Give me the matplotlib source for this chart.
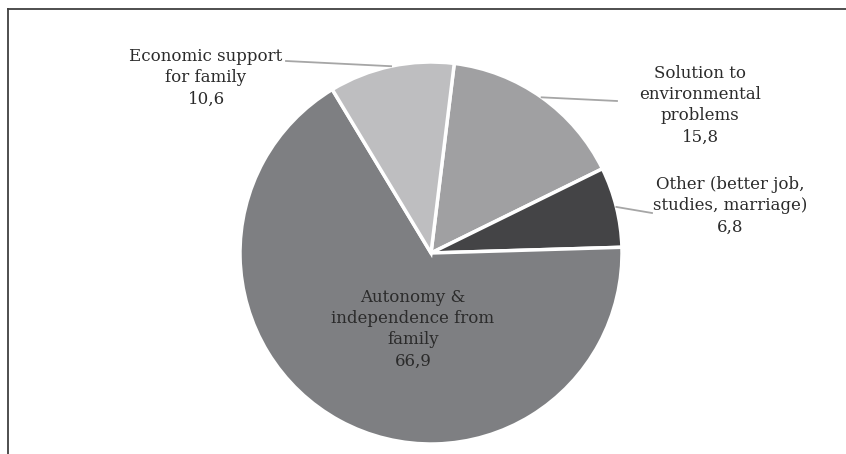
import numpy as np
import matplotlib.pyplot as plt
from matplotlib.lines import Line2D

# reasons for moving out, percent of respondents
categories = ['Solution to\nenvironmental\nproblems',
              'Other (better job,\nstudies, marriage)',
              'Autonomy &\nindependence from\nfamily',
              'Economic support\nfor family']
values = [15.8, 6.8, 66.9, 10.6]
value_labels = ['15,8', '6,8', '66,9', '10,6']
colors = ['#a0a0a2', '#444446', '#7e7f82', '#bebec0']

W, H = 846, 454
fig = plt.figure(figsize=(W / 100, H / 100), dpi=100)
ax = fig.add_axes([0, 0, 1, 1])

cx, cy, r = 431, H - 253, 191
wedges, _ = ax.pie(values, colors=colors, startangle=83, counterclock=False,
                   center=(cx, cy), radius=r,
                   wedgeprops=dict(edgecolor='white', linewidth=2.5))

ax.set_xlim(0, W)
ax.set_ylim(0, H)
ax.set_aspect('equal')
ax.axis('off')

font = dict(family='DejaVu Serif', fontsize=12, color='#2b2b2b',
            ha='center', va='center', linespacing=1.33)

# label centres (px from top-left) and where each leader line starts
label_pos = [(700, 105), (730, 206), (413, 329), (206, 78)]
leader_start = [(617, 101), (652, 213), None, (286, 61)]

for w, txt, val, (lx, ly), start in zip(wedges, categories, value_labels,
                                        label_pos, leader_start):
    ax.text(lx, H - ly, txt + '\n' + val, **font)
    if start is not None:
        mid = np.deg2rad((w.theta1 + w.theta2) / 2)
        ex, ey = cx + r * np.cos(mid), cy + r * np.sin(mid)
        ax.plot([start[0], ex], [H - start[1], ey], color='#a6a6a6', lw=1.3)

# chart frame (top and left edges only)
fig.add_artist(Line2D([8 / W, 1], [1 - 9 / H, 1 - 9 / H], color='#404040', lw=1.3))
fig.add_artist(Line2D([8 / W, 8 / W], [0, 1 - 9 / H], color='#404040', lw=1.3))

fig.savefig('out.png', dpi=100)
